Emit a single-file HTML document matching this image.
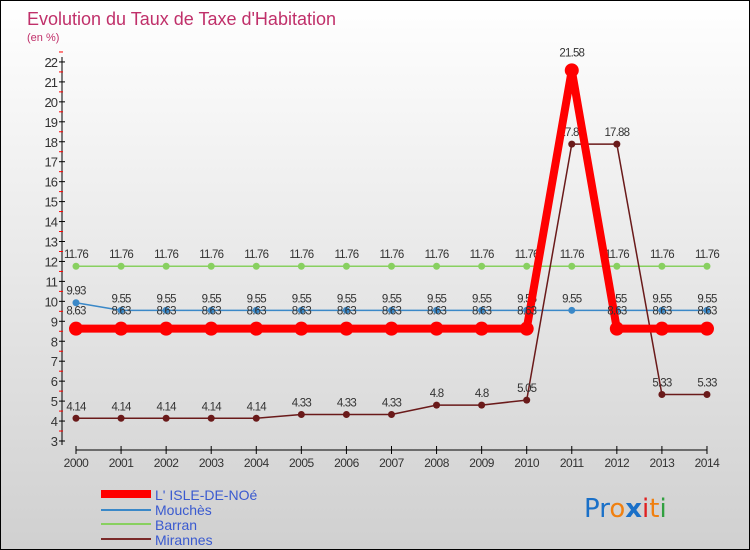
<!DOCTYPE html>
<html><head><meta charset="utf-8"><style>
body{margin:0}
#c{width:748px;height:548px;border:1px solid #000;background:linear-gradient(#fff,#d0d0d0);position:relative;font-family:"Liberation Sans",sans-serif;overflow:hidden}
</style></head><body>
<div id="c">
<svg id="s" width="748" height="548" xmlns="http://www.w3.org/2000/svg" font-family="Liberation Sans, sans-serif">
<text x="26" y="24" font-size="18" fill="#c0306a">Evolution du Taux de Taxe d'Habitation</text>
<text x="26" y="40" font-size="11" fill="#c0306a">(en %)</text>
<g id="g"></g>
<g>
<line x1="100" y1="493" x2="150" y2="493" stroke="#f00" stroke-width="8"/>
<text x="154" y="499" font-size="14" fill="#3a5ad0">L' ISLE-DE-NOé</text>
<line x1="100" y1="509" x2="150" y2="509" stroke="#3a88c8" stroke-width="2"/>
<text x="154" y="514" font-size="14" fill="#3a5ad0">Mouchès</text>
<line x1="100" y1="523" x2="150" y2="523" stroke="#88d060" stroke-width="2"/>
<text x="154" y="529" font-size="14" fill="#3a5ad0">Barran</text>
<line x1="100" y1="538" x2="150" y2="538" stroke="#7a2a2a" stroke-width="2"/>
<text x="154" y="544" font-size="14" fill="#3a5ad0">Mirannes</text>
</g>
<g font-size="26" font-family="DejaVu Sans, sans-serif">
<text x="583" y="516"><tspan fill="#1a70c8">Pr</tspan><tspan fill="#f08010">o</tspan><tspan fill="#1a70c8" font-weight="bold">x</tspan><tspan fill="#e02020">i</tspan><tspan fill="#f08010">t</tspan><tspan fill="#30a040">i</tspan></text>
</g>
</svg>
</div>
<script>
const years=[2000,2001,2002,2003,2004,2005,2006,2007,2008,2009,2010,2011,2012,2013,2014];
const isle=[8.63,8.63,8.63,8.63,8.63,8.63,8.63,8.63,8.63,8.63,8.63,21.58,8.63,8.63,8.63];
const mouches=[9.93,9.55,9.55,9.55,9.55,9.55,9.55,9.55,9.55,9.55,9.55,9.55,9.55,9.55,9.55];
const barran=[11.76,11.76,11.76,11.76,11.76,11.76,11.76,11.76,11.76,11.76,11.76,11.76,11.76,11.76,11.76];
const mirannes=[4.14,4.14,4.14,4.14,4.14,4.33,4.33,4.33,4.8,4.8,5.05,17.88,17.88,5.33,5.33];
const yTicks=[3,4,5,6,7,8,9,10,11,12,13,14,15,16,17,18,19,20,21,22];
const NS="http://www.w3.org/2000/svg";
const g=document.getElementById('g');
const X=i=>75+i*45.07;
const Y=v=>440-(v-3)*19.95;
function el(t,a){const e=document.createElementNS(NS,t);for(const k in a)e.setAttribute(k,a[k]);g.appendChild(e);return e;}
let e=el('line',{x1:61,y1:56,x2:61,y2:444,stroke:'#000','stroke-width':1});


yTicks.forEach(v=>{
 el('line',{x1:58,y1:Y(v),x2:64,y2:Y(v),stroke:'#000'});
 el('line',{x1:58,y1:Y(v+0.5),x2:62,y2:Y(v+0.5),stroke:'#f00'});
 const t=el('text',{x:56,y:Y(v)+5,'font-size':13,'text-anchor':'end',fill:'#333','letter-spacing':'-1'});t.textContent=v;
 
 
});
e=el('line',{x1:X(0),y1:449,x2:X(14),y2:449,stroke:'#000'});


years.forEach((y,i)=>{
 el('line',{x1:X(i),y1:445,x2:X(i),y2:453,stroke:'#000'});
 const t=el('text',{x:X(i),y:466,'font-size':12,'text-anchor':'middle',fill:'#333','letter-spacing':'-0.5'});t.textContent=y;
 
 
});
function series(d,col,w,r,name,lblOff){
 const p=el('polyline',{points:d.map((v,i)=>X(i)+','+Y(v)).join(' '),fill:'none',stroke:col,'stroke-width':w,'stroke-linejoin':'round'});
 
 
 d.forEach((v,i)=>{
  const c=el('circle',{cx:X(i),cy:Y(v),r:r,fill:col});
  
  
  const t=el('text',{x:X(i),y:Y(v)+lblOff,'font-size':11.5,'text-anchor':'middle',fill:'#333','letter-spacing':'-0.8'});t.textContent=v;
  
  
 });
}
series(barran,'#88d060',1.5,3.5,'barran',-8);
series(mouches,'#3a88c8',1.5,3.5,'mouches',-8);
series(mirannes,'#6a1a1a',1.5,3.5,'mirannes',-8);
series(isle,'#f00',8,7,'isle',-14);
</script>
</body></html>
